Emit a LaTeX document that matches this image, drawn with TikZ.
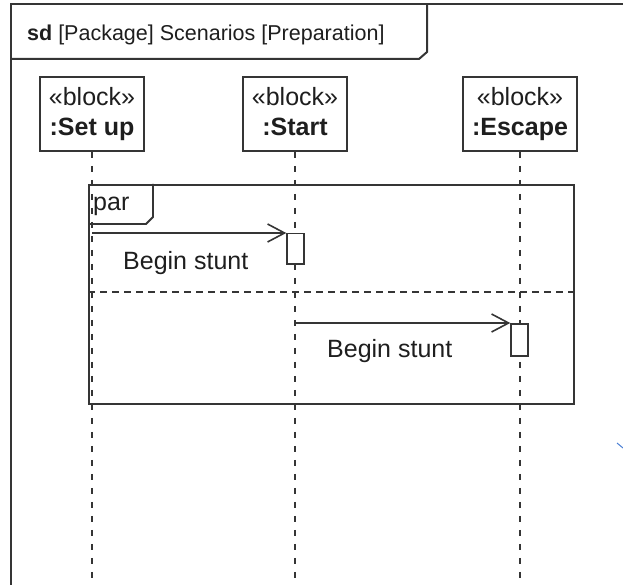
\documentclass[tikz,border=0pt]{standalone}
\usepackage{fontspec}
\setmainfont{Liberation Sans}
\usetikzlibrary{arrows.meta}
\definecolor{ink}{HTML}{353535}
\definecolor{txt}{HTML}{1E1E1E}
\definecolor{stray}{HTML}{4A7FD4}

\begin{document}
\begin{tikzpicture}[x=1pt,y=-1pt,
  every node/.style={text=txt, inner sep=0pt},
  frameline/.style={draw=ink, line width=2pt},
  headbox/.style={draw=ink, line width=1.8pt, fill=white,
    minimum width=104pt, minimum height=74pt, align=center,
    font=\fontsize{25}{30}\selectfont},
  lifeline/.style={draw=ink, line width=1.5pt, dash pattern=on 6pt off 8pt},
  fragment/.style={draw=ink, line width=1.9pt, minimum width=485pt,
    minimum height=219pt, anchor=north west},
  separator/.style={draw=ink, line width=1.5pt, dash pattern=on 7pt off 5pt},
  actbox/.style={draw=ink, line width=1.5pt, fill=white,
    minimum width=17pt, anchor=north},
  msg/.style={draw=ink, line width=1.6pt,
    -{Straight Barb[length=17pt,width=18pt,line width=1.6pt]}},
  lbl/.style={font=\fontsize{25}{30}\selectfont, anchor=base west},
]
\useasboundingbox (0,0) rectangle (623,585);

% diagram frame and its name tab
\draw[frameline] (11,590) -- (11,4) -- (630,4);
\draw[frameline] (11,59) -- (419,59) -- (427,52) -- (427,4);
\node[font=\fontsize{21.5}{26}\selectfont, anchor=base west] (title) at (27,41)
  {\textbf{sd} [Package] Scenarios [Preparation]};

% lifeline heads
\node[headbox] (su) at (92,114) {«block»\\\textbf{:Set up}};
\node[headbox] (st) at (295,114) {«block»\\\textbf{:Start}\vphantom{p}};
\node[headbox, minimum width=114pt] (es) at (520,114) {«block»\\\textbf{:Escape}};

% lifelines
\coordinate (suEnd) at (92,590);
\coordinate (stEnd) at (295,590);
\coordinate (esEnd) at (520,590);
\draw[lifeline] (su.south) -- (suEnd);
\draw[lifeline] (st.south) -- (stEnd);
\draw[lifeline] (es.south) -- (esEnd);

% par combined fragment
\node[fragment] (par) at (88,184) {};
\draw[draw=ink, line width=1.9pt] (par.north west |- 0,224) -- (146,224) -- (153,217) -- (153,184);
\node[lbl] (parlbl) at (93,211) {par};
\draw[separator] (par.west |- 0,292) -- (par.east |- 0,292);

% first operand
\node[actbox, minimum height=30pt] (a1) at (295.5,233) {};
\coordinate (m1) at (92,233);
\draw[msg] (m1) -- (a1.north west);
\node[lbl] (l1) at (123,269) {Begin stunt};

% second operand
\node[actbox, minimum height=32pt] (a2) at (519.5,323) {};
\coordinate (m2) at (295,323);
\draw[msg] (m2) -- (a2.north west);
\node[lbl] (l2) at (327,357) {Begin stunt};

% small blue stroke at the right edge
\draw[stray, line width=1pt] (617,443) -- (623,448);
\end{tikzpicture}
\end{document}
